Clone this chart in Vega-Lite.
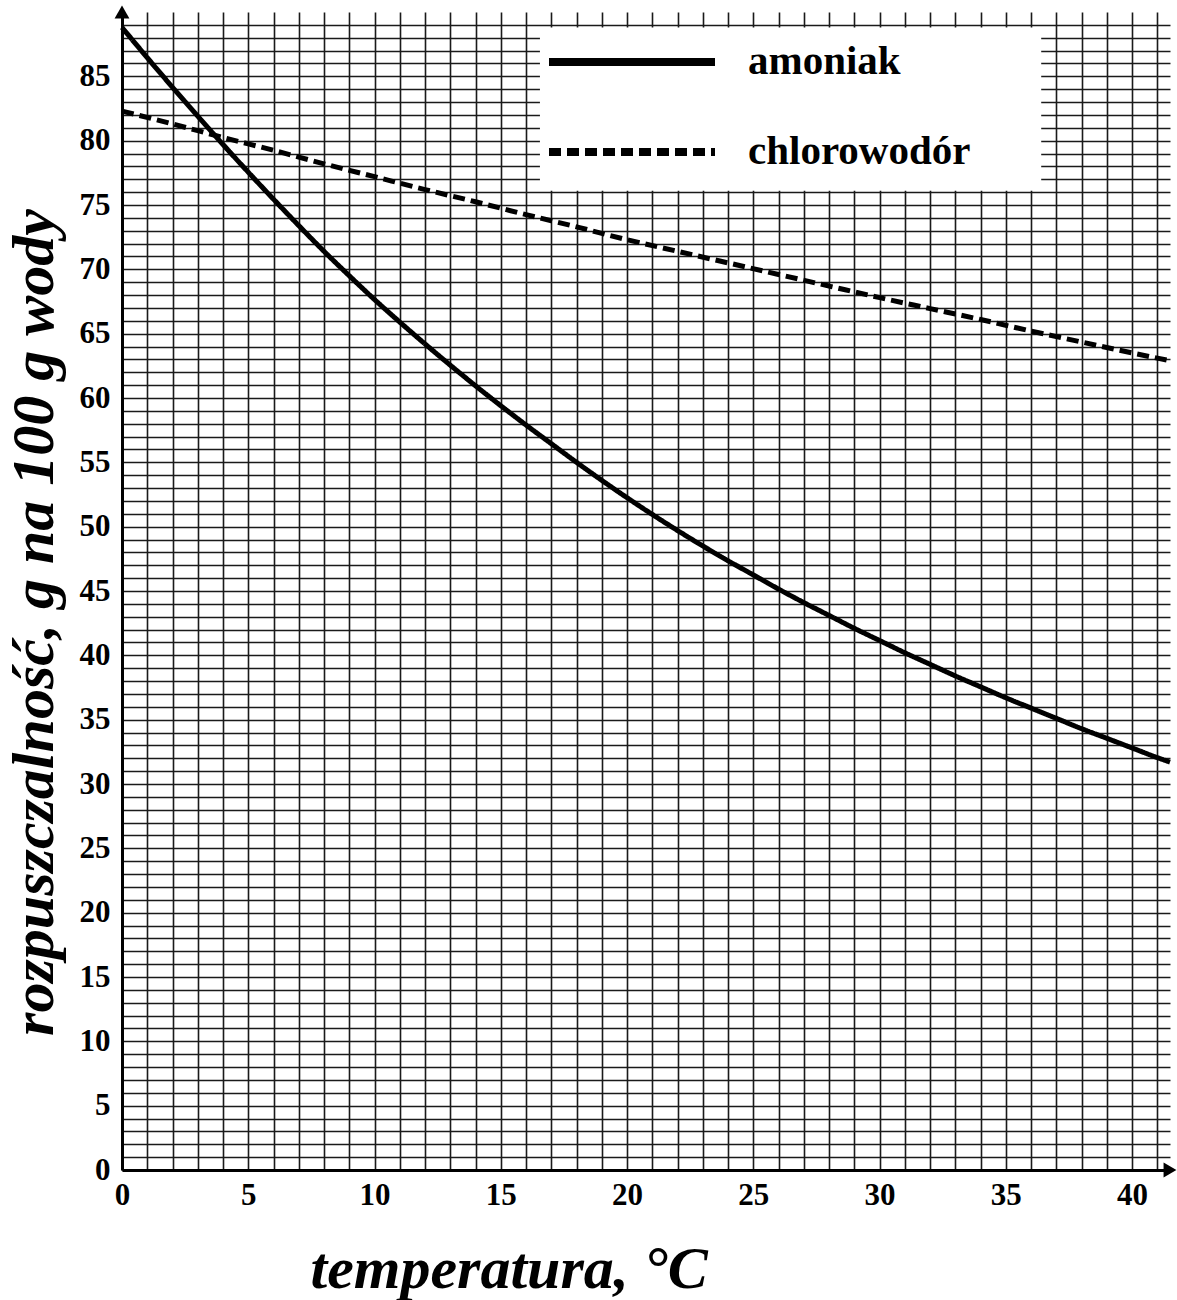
{
  "$schema": "https://vega.github.io/schema/vega-lite/v6.json",
  "autosize": {"type": "none"},
  "padding": {"left": 122, "top": 12, "right": 7, "bottom": 130},
  "width": 1048,
  "height": 1158,
  "background": "white",
  "config": {
    "view": {"stroke": null},
    "font": "Liberation Serif"
  },
  "datasets": {
    "curves": [
      {"substance": "amoniak", "t": 0, "s": 88.8},
      {"substance": "amoniak", "t": 1, "s": 86.45},
      {"substance": "amoniak", "t": 2, "s": 84.15},
      {"substance": "amoniak", "t": 3, "s": 81.9},
      {"substance": "amoniak", "t": 4, "s": 79.7},
      {"substance": "amoniak", "t": 5, "s": 77.55},
      {"substance": "amoniak", "t": 6, "s": 75.45},
      {"substance": "amoniak", "t": 7, "s": 73.4},
      {"substance": "amoniak", "t": 8, "s": 71.4},
      {"substance": "amoniak", "t": 9, "s": 69.5},
      {"substance": "amoniak", "t": 10, "s": 67.65},
      {"substance": "amoniak", "t": 11, "s": 65.9},
      {"substance": "amoniak", "t": 12, "s": 64.2},
      {"substance": "amoniak", "t": 13, "s": 62.55},
      {"substance": "amoniak", "t": 14, "s": 60.95},
      {"substance": "amoniak", "t": 15, "s": 59.4},
      {"substance": "amoniak", "t": 16, "s": 57.9},
      {"substance": "amoniak", "t": 17, "s": 56.45},
      {"substance": "amoniak", "t": 18, "s": 55.0},
      {"substance": "amoniak", "t": 19, "s": 53.6},
      {"substance": "amoniak", "t": 20, "s": 52.25},
      {"substance": "amoniak", "t": 21, "s": 50.95},
      {"substance": "amoniak", "t": 22, "s": 49.7},
      {"substance": "amoniak", "t": 23, "s": 48.5},
      {"substance": "amoniak", "t": 24, "s": 47.35},
      {"substance": "amoniak", "t": 25, "s": 46.25},
      {"substance": "amoniak", "t": 26, "s": 45.15},
      {"substance": "amoniak", "t": 27, "s": 44.1},
      {"substance": "amoniak", "t": 28, "s": 43.1},
      {"substance": "amoniak", "t": 29, "s": 42.1},
      {"substance": "amoniak", "t": 30, "s": 41.15},
      {"substance": "amoniak", "t": 31, "s": 40.2},
      {"substance": "amoniak", "t": 32, "s": 39.3},
      {"substance": "amoniak", "t": 33, "s": 38.4},
      {"substance": "amoniak", "t": 34, "s": 37.55},
      {"substance": "amoniak", "t": 35, "s": 36.7},
      {"substance": "amoniak", "t": 36, "s": 35.9},
      {"substance": "amoniak", "t": 37, "s": 35.1},
      {"substance": "amoniak", "t": 38, "s": 34.3},
      {"substance": "amoniak", "t": 39, "s": 33.55},
      {"substance": "amoniak", "t": 40, "s": 32.8},
      {"substance": "amoniak", "t": 41, "s": 32.05},
      {"substance": "amoniak", "t": 41.5, "s": 31.7},
      {"substance": "chlorowodór", "t": 0, "s": 82.3},
      {"substance": "chlorowodór", "t": 2, "s": 81.3},
      {"substance": "chlorowodór", "t": 4, "s": 80.25},
      {"substance": "chlorowodór", "t": 6, "s": 79.25},
      {"substance": "chlorowodór", "t": 8, "s": 78.2},
      {"substance": "chlorowodór", "t": 10, "s": 77.2},
      {"substance": "chlorowodór", "t": 12, "s": 76.2},
      {"substance": "chlorowodór", "t": 14, "s": 75.25},
      {"substance": "chlorowodór", "t": 16, "s": 74.25},
      {"substance": "chlorowodór", "t": 18, "s": 73.3},
      {"substance": "chlorowodór", "t": 20, "s": 72.3},
      {"substance": "chlorowodór", "t": 22, "s": 71.4},
      {"substance": "chlorowodór", "t": 24, "s": 70.5},
      {"substance": "chlorowodór", "t": 26, "s": 69.6},
      {"substance": "chlorowodór", "t": 28, "s": 68.7},
      {"substance": "chlorowodór", "t": 30, "s": 67.8},
      {"substance": "chlorowodór", "t": 32, "s": 66.95},
      {"substance": "chlorowodór", "t": 34, "s": 66.1},
      {"substance": "chlorowodór", "t": 36, "s": 65.2},
      {"substance": "chlorowodór", "t": 38, "s": 64.35},
      {"substance": "chlorowodór", "t": 40, "s": 63.5},
      {"substance": "chlorowodór", "t": 41.5, "s": 62.9}
    ]
  },
  "layer": [
    {
      "data": {"values": [{}]},
      "mark": {"type": "rect", "color": "white"},
      "encoding": {
        "x": {
          "datum": 16.55,
          "type": "quantitative",
          "scale": {"domain": [0, 41.5], "nice": false, "zero": false},
          "axis": {
            "values": [0,1,2,3,4,5,6,7,8,9,10,11,12,13,14,15,16,17,18,19,20,21,22,23,24,25,26,27,28,29,30,31,32,33,34,35,36,37,38,39,40,41],
            "tickCount": 200,
            "format": "d",
            "labelExpr": "datum.value % 5 == 0 ? datum.label : ''",
            "labelOverlap": false,
            "labelFlush": false,
            "zindex": 0,
            "grid": true,
            "gridColor": "#1a1a1a",
            "gridWidth": 1.6,
            "gridOpacity": 1,
            "ticks": false,
            "domainColor": "black",
            "domainWidth": 3,
            "labelFont": "Liberation Serif",
            "labelFontWeight": "bold",
            "labelFontSize": 31,
            "labelColor": "black",
            "labelPadding": 10,
            "title": "temperatura, °C",
            "titleFont": "Liberation Serif",
            "titleFontWeight": "bold",
            "titleFontStyle": "italic",
            "titleFontSize": 60,
            "titleColor": "black",
            "titleAnchor": "start",
            "titleAlign": "left",
            "titleBaseline": "alphabetic",
            "titleX": 188,
            "titleY": 117
          }
        },
        "x2": {"datum": 36.4},
        "y": {
          "datum": 88.8,
          "type": "quantitative",
          "scale": {"domain": [0, 90], "nice": false},
          "axis": {
            "values": [0,1,2,3,4,5,6,7,8,9,10,11,12,13,14,15,16,17,18,19,20,21,22,23,24,25,26,27,28,29,30,31,32,33,34,35,36,37,38,39,40,41,42,43,44,45,46,47,48,49,50,51,52,53,54,55,56,57,58,59,60,61,62,63,64,65,66,67,68,69,70,71,72,73,74,75,76,77,78,79,80,81,82,83,84,85,86,87,88,89],
            "tickCount": 200,
            "format": "d",
            "labelExpr": "datum.value % 5 == 0 ? datum.label : ''",
            "labelOverlap": false,
            "labelFlush": false,
            "zindex": 0,
            "grid": true,
            "gridColor": "#1a1a1a",
            "gridWidth": 1.6,
            "gridOpacity": 1,
            "ticks": false,
            "domainColor": "black",
            "domainWidth": 3,
            "labelFont": "Liberation Serif",
            "labelFontWeight": "bold",
            "labelFontSize": 31,
            "labelColor": "black",
            "labelPadding": 12,
            "title": "rozpuszczalność, g na 100 g wody",
            "titleFont": "Liberation Serif",
            "titleFontWeight": "bold",
            "titleFontStyle": "italic",
            "titleFontSize": 60,
            "titleColor": "black",
            "titleAngle": -90,
            "titleAlign": "center",
            "titleBaseline": "alphabetic",
            "titleX": -70,
            "titleY": 610
          }
        },
        "y2": {"datum": 76.1}
      }
    },
    {
      "data": {"name": "curves"},
      "mark": {"type": "line", "color": "black", "strokeWidth": 5, "interpolate": "monotone"},
      "encoding": {
        "x": {"field": "t", "type": "quantitative"},
        "y": {"field": "s", "type": "quantitative"},
        "strokeDash": {
          "field": "substance",
          "type": "nominal",
          "scale": {"domain": ["amoniak", "chlorowodór"], "range": [[1, 0], [12, 6]]},
          "legend": {
            "title": null,
            "orient": "none",
            "legendX": 423,
            "legendY": 23,
            "padding": 0,
            "symbolType": "stroke",
            "symbolSize": 27556,
            "symbolStrokeWidth": 8,
            "symbolStrokeColor": "black",
            "symbolOffset": 0,
            "clipHeight": 54,
            "rowPadding": 36,
            "labelOffset": 29,
            "labelFont": "Liberation Serif",
            "labelFontWeight": "bold",
            "labelFontSize": 41,
            "labelColor": "black",
            "labelLimit": 400
          }
        }
      }
    },
    {
      "data": {"values": [{}]},
      "mark": {"type": "point", "shape": "triangle-right", "filled": true, "color": "black", "size": 220, "opacity": 1, "clip": false},
      "encoding": {"x": {"datum": 41.5}, "y": {"datum": 0}}
    },
    {
      "data": {"values": [{}]},
      "mark": {"type": "point", "shape": "triangle-up", "filled": true, "color": "black", "size": 220, "opacity": 1, "clip": false},
      "encoding": {"x": {"datum": 0}, "y": {"datum": 90}}
    }
  ]
}
